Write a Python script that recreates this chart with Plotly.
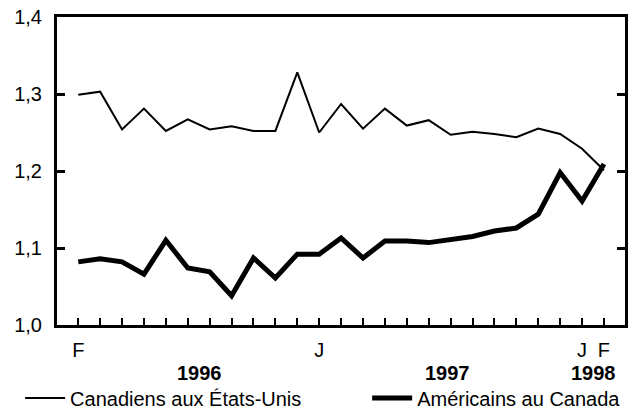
import plotly.graph_objects as go

months = list(range(25))  # Feb 1996 .. Feb 1998
month_labels = ["F", "", "", "", "", "", "", "", "", "", "", "J", "", "", "", "", "", "", "", "", "", "", "", "J", "F"]
jan_ticks = [11, 23]

canadiens_eu = [1.299, 1.303, 1.254, 1.281, 1.252, 1.267, 1.254, 1.258, 1.252, 1.252, 1.328, 1.250,
                1.287, 1.255, 1.281, 1.259, 1.266, 1.247, 1.251, 1.248, 1.244, 1.255, 1.248, 1.229, 1.201]
americains_ca = [1.082, 1.086, 1.082, 1.066, 1.110, 1.074, 1.069, 1.038, 1.087, 1.061, 1.092, 1.092,
                 1.113, 1.087, 1.109, 1.109, 1.107, 1.111, 1.115, 1.122, 1.126, 1.144, 1.198, 1.161, 1.209]

years = ["1996", "1997", "1998"]
year_pos = [5.55, 16.85, 23.5]

FONT = "Liberation Sans, Arial, sans-serif"
FS = 20

fig = go.Figure()
fig.add_trace(go.Scatter(x=months, y=canadiens_eu, mode="lines", name="Canadiens aux États-Unis",
                         line=dict(color="black", width=2), legend="legend"))
fig.add_trace(go.Scatter(x=months, y=americains_ca, mode="lines", name="Américains au Canada",
                         line=dict(color="black", width=5), legend="legend2"))

for yr, xp in zip(years, year_pos):
    fig.add_annotation(x=xp, y=-0.156, xref="x", yref="paper", text="<b>%s</b>" % yr,
                       showarrow=False, font=dict(size=FS, color="black", family=FONT),
                       xanchor="center", yanchor="middle")

leg_common = dict(orientation="h", xanchor="left", y=-0.237, yanchor="middle",
                  font=dict(size=FS, family=FONT, color="black"), itemwidth=40, borderwidth=0,
                  bgcolor="rgba(0,0,0,0)")

fig.update_layout(
    width=631, height=410,
    margin=dict(l=49, r=14, t=9, b=93, autoexpand=False),
    paper_bgcolor="white", plot_bgcolor="white",
    separators=", ",
    font=dict(family=FONT, size=FS, color="black"),
    showlegend=True,
    legend=dict(x=-0.065, **leg_common),
    legend2=dict(x=0.546, **leg_common),
    xaxis=dict(range=[-0.97, 24.96], showline=True, linewidth=3, linecolor="black", mirror=True,
               ticks="inside", tickvals=months, ticktext=month_labels, ticklen=7, tickwidth=2,
               tickcolor="black", showgrid=False, zeroline=False, ticklabelstandoff=5,
               tickfont=dict(size=FS), automargin=False, ticklabeloverflow="allow"),
    xaxis2=dict(range=[-0.97, 24.96], overlaying="x", side="bottom", showline=False,
                ticks="inside", tickvals=jan_ticks, ticklen=22, tickwidth=2, tickcolor="black",
                showticklabels=False, showgrid=False, zeroline=False, automargin=False),
    yaxis=dict(range=[1.0, 1.4], showline=True, linewidth=3, linecolor="black", mirror="ticks",
               ticks="inside", tickvals=[1.0, 1.1, 1.2, 1.3, 1.4], tickformat=".1f", ticklen=8,
               tickwidth=3, tickcolor="black", showgrid=False, zeroline=False,
               ticklabelstandoff=8, tickfont=dict(size=FS), automargin=False,
               ticklabeloverflow="allow"),
)

fig.write_html("out.html")
